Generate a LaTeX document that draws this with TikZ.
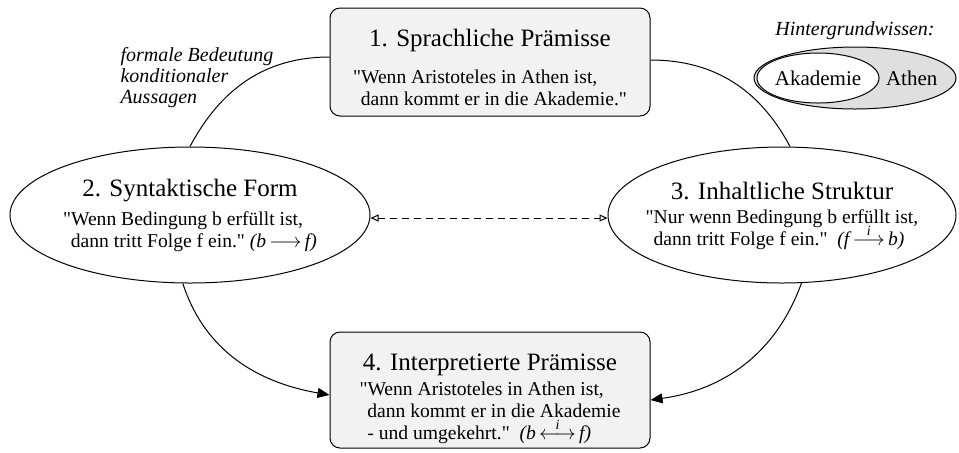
\documentclass[tikz,border=0pt]{standalone}
\usepackage{fontspec}
\setmainfont{Liberation Serif}[Ligatures=TeXOff]
\usetikzlibrary{positioning,arrows.meta,shapes.geometric}

\tikzset{
  premise/.style={draw, rounded corners=5pt, fill=gray!10, inner sep=0pt,
    minimum width=160pt, minimum height=54pt, align=center},
  stage/.style={draw, ellipse, inner sep=0pt, minimum width=180pt, minimum height=68pt},
  stagetext/.style={inner sep=0pt, align=center},
  note/.style={font=\fontsize{10}{10.5}\selectfont\itshape, align=left, inner sep=0pt},
  link/.style={line width=0.5pt},
  imply/.style={link, -{Triangle[length=6pt,width=5pt]}},
  analog/.style={link, dash pattern=on 3.5pt off 2.5pt,
    {Triangle[open,length=4pt,width=3.5pt]}-{Triangle[open,length=4pt,width=3.5pt]}}
}
\newcommand{\stagehead}[1]{{\fontsize{12.5}{14}\selectfont #1}}
\newcommand{\quotelines}[1]{\begin{tabular}{@{}l@{}}#1\end{tabular}}
\newcommand{\ind}{\hspace{0.4em}}
\newcommand{\iarrow}[1]{$\mathrel{\smash{\stackrel{\raisebox{-0.7ex}{\scriptsize\textit{i}}}{#1}}}$}

\begin{document}
\begin{tikzpicture}[x=0.5pt, y=-0.5pt, font=\fontsize{9.8}{11}\selectfont, line width=0.5pt]
\useasboundingbox (0,0) rectangle (959,452);

% the four stages
\node[premise] (p1) at (490,62) {\rule{0pt}{17pt}\stagehead{1. Sprachliche Prämisse}\\[7pt]
  \quotelines{"Wenn Aristoteles in Athen ist,\\ \ind dann kommt er in die Akademie."}};
\node[stage] (s2) at (190,215) {};
\node[stagetext] (s2txt) at ([yshift=-1pt]s2.center) {\stagehead{2. Syntaktische Form}\\[3pt]
  \quotelines{"Wenn Bedingung b erfüllt ist,\\ \ind dann tritt Folge f ein." \textit{(b\,}$\longrightarrow$\textit{\,f)}}};
\node[stage, minimum width=174pt] (s3) at (782,215) {};
\node[stagetext] (s3txt) at ([yshift=-1pt]s3.center) {\stagehead{3. Inhaltliche Struktur}\\[3pt]
  \quotelines{"Nur wenn Bedingung b erfüllt ist,\\ \ind dann tritt Folge f ein." \ \textit{(f\,}\iarrow{\longrightarrow}\textit{\,b)}}};
\node[premise, minimum height=58pt] (p4) at (490,390) {\rule{0pt}{18pt}\stagehead{4. Interpretierte Prämisse}\\[1pt]
  \quotelines{"Wenn Aristoteles in Athen ist,\\ \ind dann kommt er in die Akademie\\ \ind - und umgekehrt." \ \textit{(b\,}\iarrow{\longleftrightarrow}\textit{\,f)}}};

% background knowledge
\node[draw, ellipse, fill=gray!25, inner sep=0pt, minimum width=101pt, minimum height=31pt] (athen) at (855,78) {};
\node[draw, ellipse, fill=white, inner sep=0pt, minimum width=60pt, minimum height=25pt,
  font=\fontsize{10.5}{12}\selectfont] (akad) at (818,78) {Akademie};
\node[right=3pt of akad, inner sep=0pt, font=\fontsize{10.5}{12}\selectfont] (athenlbl) {Athen};
\node[note, above=3pt of athen] (bgw) {Hintergrundwissen:};

% connections
\node[note, anchor=west] (fbk) at (120,78) {formale Bedeutung\\konditionaler\\Aussagen};
\draw[link] ([yshift=2.5pt]p1.west) to[out=180, in=62] (s2.north);
\draw[link] ([yshift=1pt]p1.east) to[out=0, in=118] ([xshift=4pt]s3.north);
\draw[imply] (s2.-96) to[out=-72, in=170] ([yshift=-2.5pt]p4.west);
\draw[imply] (s3.-74) to[out=-110, in=8] ([yshift=-5pt]p4.east);
\draw[analog] ([yshift=-1.5pt]s2.east) -- ([yshift=-1.5pt]s3.west);
\end{tikzpicture}
\end{document}
